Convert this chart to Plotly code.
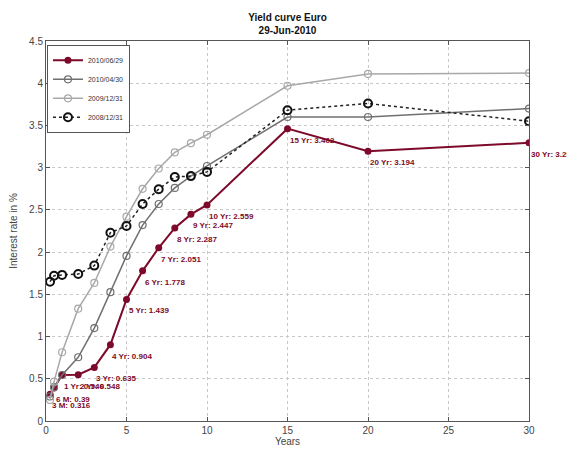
import plotly.graph_objects as go

maturities = [0.25, 0.5, 1, 2, 3, 4, 5, 6, 7, 8, 9, 10, 15, 20, 30]
mat_labels = ["3 M", "6 M", "1 Yr", "2 Yr", "3 Yr", "4 Yr", "5 Yr", "6 Yr", "7 Yr",
              "8 Yr", "9 Yr", "10 Yr", "15 Yr", "20 Yr", "30 Yr"]
y_20100629 = [0.316, 0.39, 0.546, 0.548, 0.635, 0.904, 1.439, 1.778, 2.051, 2.287,
              2.447, 2.559, 3.462, 3.194, 3.294]
y_20100430 = [0.29, 0.40, 0.545, 0.755, 1.10, 1.525, 1.955, 2.32, 2.57, 2.76,
              2.90, 3.02, 3.60, 3.60, 3.70]
y_20091231 = [0.25, 0.466, 0.814, 1.33, 1.635, 2.065, 2.42, 2.75, 2.99, 3.18,
              3.29, 3.39, 3.97, 4.11, 4.12]
y_20081231 = [1.65, 1.72, 1.73, 1.74, 1.84, 2.23, 2.31, 2.57, 2.745, 2.89,
              2.90, 2.95, 3.68, 3.76, 3.55]
series_names = ["2010/06/29", "2010/04/30", "2009/12/31", "2008/12/31"]

RED = "#7d0a2a"
DGRAY = "#707070"
LGRAY = "#a8a8a8"
FONT = "Arial, Liberation Sans"

fig = go.Figure()
fig.add_trace(go.Scatter(x=maturities, y=y_20100629, name=series_names[0], mode="lines+markers",
                         line=dict(color=RED, width=2),
                         marker=dict(symbol="circle", size=7, color=RED)))
fig.add_trace(go.Scatter(x=maturities, y=y_20100430, name=series_names[1], mode="lines+markers",
                         line=dict(color=DGRAY, width=1.5),
                         marker=dict(symbol="circle-open", size=7, color=DGRAY, line=dict(width=1.2))))
fig.add_trace(go.Scatter(x=maturities, y=y_20091231, name=series_names[2], mode="lines+markers",
                         line=dict(color=LGRAY, width=1.5),
                         marker=dict(symbol="circle-open", size=7, color=LGRAY, line=dict(width=1.2))))
fig.add_trace(go.Scatter(x=maturities, y=y_20081231, name=series_names[3], mode="lines+markers",
                         line=dict(color="#222222", width=1.5, dash="dot"),
                         marker=dict(symbol="circle-open", size=8, color="#111111", line=dict(width=2))))

for xv, yv, lab in zip(maturities, y_20100629, mat_labels):
    fig.add_annotation(x=xv, y=yv, text=f"<b>{lab}: {yv:g}</b>", showarrow=False,
                       xanchor="left", yanchor="top", yshift=-5, xshift=0,
                       font=dict(family=FONT, size=8, color=RED))

axis_common = dict(showgrid=True, gridcolor="#c8c8c8", griddash="dot", gridwidth=1,
                   zeroline=False, showline=True, linecolor="#555555", linewidth=1,
                   mirror="ticks", ticks="inside", ticklen=4, tickcolor="#555555",
                   automargin=False,
                   tickfont=dict(family=FONT, size=10, color="#444444"))

fig.update_xaxes(range=[0, 30], dtick=5, title=dict(text="Years", standoff=2,
                 font=dict(family=FONT, size=10, color="#444444")), **axis_common)
fig.update_yaxes(range=[0, 4.5], dtick=0.5, title=dict(text="Interest rate in %", standoff=10,
                 font=dict(family=FONT, size=10, color="#444444")), **axis_common)

# the page adds an 8 px body margin, so the figure is sized/margined to compensate
fig.update_layout(
    width=567, height=444,
    margin=dict(l=38, r=46, t=33, b=31, autoexpand=False),
    paper_bgcolor="white", plot_bgcolor="white",
    title=dict(text="<b>Yield curve Euro</b><br><b>29-Jun-2010</b>", x=0.5, xanchor="center",
               xref="paper", y=0.970, yanchor="top",
               font=dict(family=FONT, size=10, color="#111111")),
    legend=dict(x=0.002, y=0.99, xanchor="left", yanchor="top", bgcolor="white",
                bordercolor="#555555", borderwidth=1, tracegroupgap=0,
                itemwidth=30,
                font=dict(family=FONT, size=7, color="#333333")),
)

fig.write_html("out.html")
